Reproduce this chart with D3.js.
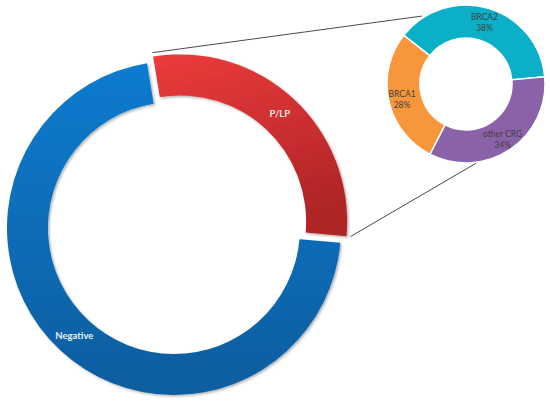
<!DOCTYPE html>
<html><head><meta charset="utf-8">
<script src="https://cdn.jsdelivr.net/npm/d3@7"></script>
<style>html,body{margin:0;padding:0;background:#fff;}svg{display:block;}</style>
</head><body>
<svg id="chart" width="550" height="404"></svg>
<script>
// ---- data ----
const mainCategories = ["P/LP", "Negative"];
const mainValues = [29, 71];
const subCategories = ["BRCA2", "other CRG", "BRCA1"];
const subValues = [38, 34, 28];
const subLabels = ["38%", "34%", "28%"];

const svg = d3.select("#chart");
const deg = Math.PI / 180;

// ---- defs ----
const defs = svg.append("defs");
const gRed = defs.append("linearGradient").attr("id", "gRed").attr("x1", 0).attr("y1", 0).attr("x2", 0.3).attr("y2", 1);
gRed.append("stop").attr("offset", "0%").attr("stop-color", "#EC3B3C");
gRed.append("stop").attr("offset", "100%").attr("stop-color", "#B02526");
const gBlue = defs.append("linearGradient").attr("id", "gBlue").attr("x1", 0).attr("y1", 0).attr("x2", 0).attr("y2", 1);
gBlue.append("stop").attr("offset", "0%").attr("stop-color", "#0A7BD0");
gBlue.append("stop").attr("offset", "100%").attr("stop-color", "#0A5D9E");
const sh = defs.append("filter").attr("id", "shadow").attr("x", "-10%").attr("y", "-10%").attr("width", "120%").attr("height", "120%");
sh.append("feDropShadow").attr("dx", 1.5).attr("dy", 1.5).attr("stdDeviation", 1.2).attr("flood-color", "#000").attr("flood-opacity", 0.3);

// ---- main donut ----
const mainCx = 174, mainCy = 228, mainR = 167, mainr = 126, explode = 9;
const mainColor = d3.scaleOrdinal().domain(mainCategories).range(["url(#gRed)", "url(#gBlue)"]);
const mainPie = d3.pie().sort(null).startAngle(-9.3 * deg).endAngle(350.7 * deg);
const mainArcs = mainPie(mainValues);
const mainArc = d3.arc().innerRadius(mainr).outerRadius(mainR);

const mg = svg.append("g").attr("transform", `translate(${mainCx},${mainCy})`);
mainArcs.forEach((a, i) => {
  const mid = (a.startAngle + a.endAngle) / 2;
  const off = i === 0 ? explode : 0;
  const g = mg.append("g").attr("transform", `translate(${Math.sin(mid) * off},${-Math.cos(mid) * off})`);
  g.append("path").attr("d", mainArc(a)).attr("fill", mainColor(mainCategories[i]))
    .attr("filter", "url(#shadow)");
  const c = mainArc.centroid(a);
  g.append("text").attr("x", c[0]).attr("y", c[1]).attr("dy", "0.35em")
    .attr("text-anchor", "middle").attr("font-family", "Lato, 'Open Sans', sans-serif")
    .attr("font-weight", "bold").attr("font-size", 9.5).attr("fill", i === 0 ? "#FBE6E6" : "#E8F1FA")
    .text(mainCategories[i]);
});

// ---- sub donut ----
const subCx = 466, subCy = 84, subR = 79, subr = 46;
const subColor = d3.scaleOrdinal().domain(subCategories).range(["#0BAFC7", "#8A62A7", "#F7963B"]);
const subPie = d3.pie().sort(null).startAngle(-52 * deg).endAngle(308 * deg);
const subArcs = subPie(subValues);
const subArc = d3.arc().innerRadius(subr).outerRadius(subR);
const sg = svg.append("g").attr("transform", `translate(${subCx},${subCy})`);
sg.selectAll("path").data(subArcs).join("path")
  .attr("d", subArc).attr("fill", (d, i) => subColor(subCategories[i]))
  .attr("stroke", "#fff").attr("stroke-width", 1.5);
const labelArc = d3.arc().innerRadius(subr + 2).outerRadius(subR + 4);
subArcs.forEach((a, i) => {
  const c = labelArc.centroid(a);
  const t = sg.append("text").attr("text-anchor", "middle")
    .attr("font-family", "Lato, 'Open Sans', sans-serif").attr("font-size", 8.5)
    .attr("fill", "#404040").attr("transform", `translate(${c[0]},${c[1]})`);
  t.append("tspan").attr("x", 0).attr("y", -1).text(subCategories[i]);
  t.append("tspan").attr("x", 0).attr("y", 10).text(subLabels[i]);
});

// ---- connector lines ----
const red = mainArcs[0];
const redMid = (red.startAngle + red.endAngle) / 2;
const ox = Math.sin(redMid) * explode, oy = -Math.cos(redMid) * explode;
function mainPt(angle, r) { return [mainCx + ox + Math.sin(angle) * r, mainCy + oy - Math.cos(angle) * r]; }
function subPt(angle, r) { return [subCx + Math.sin(angle) * r, subCy - Math.cos(angle) * r]; }
const connectors = [
  [mainPt(red.startAngle, mainR + 4), subPt(-33 * deg, subR + 2)],
  [mainPt(red.endAngle, mainR + 4), subPt(173 * deg, subR + 1)]
];
svg.selectAll("line.conn").data(connectors).join("line").attr("class", "conn")
  .attr("x1", d => d[0][0]).attr("y1", d => d[0][1])
  .attr("x2", d => d[1][0]).attr("y2", d => d[1][1])
  .attr("stroke", "#4a4a4a").attr("stroke-width", 1);
</script>
</body></html>
